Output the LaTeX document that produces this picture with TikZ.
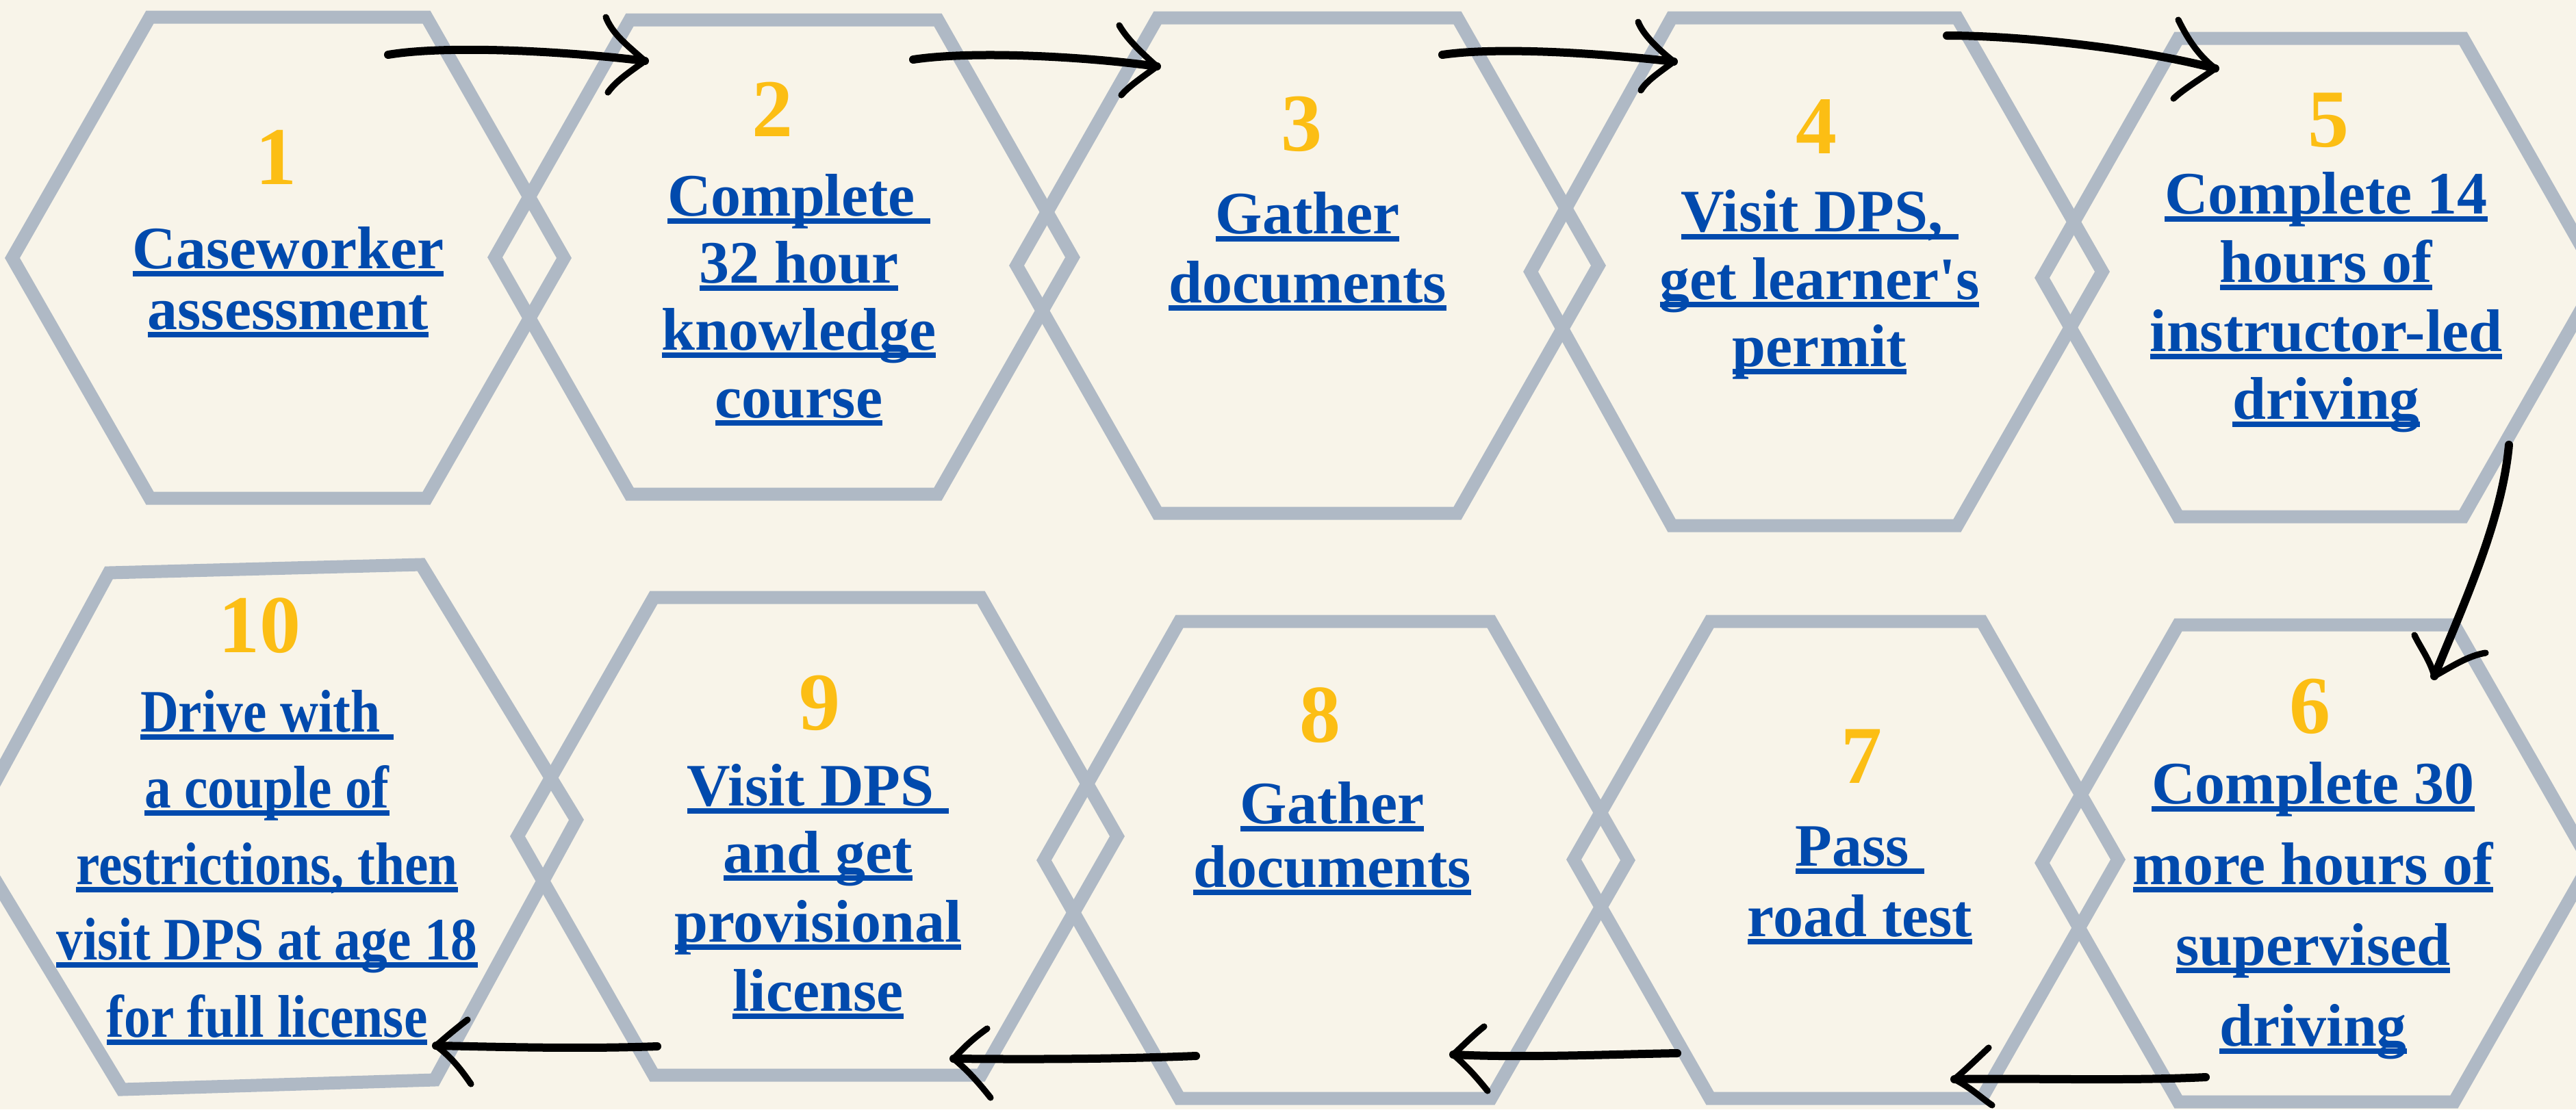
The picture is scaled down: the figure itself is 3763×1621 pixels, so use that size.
\documentclass[tikz,border=0pt]{standalone}
\usepackage{graphicx}
\usepackage{fontspec}
\setmainfont{Liberation Serif}
\definecolor{bg}{HTML}{F8F4E9}
\definecolor{hexc}{HTML}{AFB9C5}
\definecolor{txtblue}{HTML}{014AAD}
\definecolor{numyel}{HTML}{FCBE14}
\newsavebox\ulsave
\newcommand\ulx[1]{\sbox\ulsave{#1}\rlap{\rule[-3pt]{\wd\ulsave}{2pt}}\usebox\ulsave}
\newcommand\ulnarrow[1]{\ulx{\scalebox{0.88}[1]{#1}}}
\newcommand\hexa[7]{\draw[hexline] (#1,#7) -- (#2,#5) -- (#3,#5) -- (#4,#7) -- (#3,#6) -- (#2,#6) -- cycle;}
\begin{document}
\begin{tikzpicture}[x=0.25pt,y=-0.25pt,
  hexline/.style={draw=hexc,line width=4.75pt},
  tline/.style={font=\fontsize{22}{22}\selectfont\bfseries,text=txtblue,anchor=base,inner sep=0pt},
  numst/.style={font=\fontsize{30}{30}\selectfont\bfseries,text=numyel,inner sep=0pt},
  arrowline/.style={draw=black,line width=3pt,line cap=round},
  barbline/.style={draw=black,line width=2.3pt,line cap=round}]
\useasboundingbox (0,0) rectangle (3763,1621);
\clip (0,0) rectangle (3763,1621);
\fill[bg] (0,0) rectangle (3763,1621);
% hexagons: L TL TR R top bot mid
\hexa{18}{219}{623}{824}{25}{728}{377}
\hexa{723}{920}{1370}{1567}{29}{722}{376}
\hexa{1485}{1691}{2129}{2335}{26}{750}{388}
\hexa{2236}{2442}{2859}{3071}{26}{768}{397}
\hexa{2983}{3182}{3598}{3797}{56}{755}{406}
\hexa{2983}{3182}{3585}{3784}{913}{1610}{1261}
\hexa{2299}{2498}{2895}{3094}{908}{1605}{1256}
\hexa{1525}{1723}{2178}{2378}{908}{1605}{1257}
\hexa{756}{955}{1433}{1632}{873}{1571}{1222}
\draw[hexline] (-48,1218) -- (159,837) -- (615,825) -- (842,1198) -- (635,1578) -- (178,1592) -- cycle;
% arrow end points
\coordinate (a1s) at (567,80);   \coordinate (a1e) at (942,89);
\coordinate (a2s) at (1334,87);  \coordinate (a2e) at (1690,97);
\coordinate (a3s) at (2107,80);  \coordinate (a3e) at (2445,90);
\coordinate (a4s) at (2844,52);  \coordinate (a4e) at (3236,100);
\coordinate (a5s) at (3665,650); \coordinate (a5e) at (3556,988);
\coordinate (a6s) at (3222,1574);\coordinate (a6e) at (2855,1577);
\coordinate (a7s) at (2450,1539);\coordinate (a7e) at (2123,1541);
\coordinate (a8s) at (1747,1543);\coordinate (a8e) at (1393,1547);
\coordinate (a9s) at (960,1529); \coordinate (a9e) at (637,1528);
% arrows
\draw[arrowline] (a1s) .. controls (650,66) and (820,74) .. (a1e);
\draw[barbline] (a1e) .. controls (915,65) and (895,50) .. ++(-57,-64);
\draw[barbline] (a1e) .. controls (920,105) and (900,118) .. ++(-54,46);
\draw[arrowline] (a2s) .. controls (1420,74) and (1580,82) .. (a2e);
\draw[barbline] (a2e) .. controls (1665,75) and (1645,55) .. ++(-55,-60);
\draw[barbline] (a2e) .. controls (1670,112) and (1650,125) .. ++(-52,42);
\draw[arrowline] (a3s) .. controls (2190,68) and (2340,78) .. (a3e);
\draw[barbline] (a3e) .. controls (2420,70) and (2400,50) .. ++(-52,-58);
\draw[barbline] (a3e) .. controls (2425,105) and (2405,118) .. ++(-48,42);
\draw[arrowline] (a4s) .. controls (2950,52) and (3120,70) .. (a4e);
\draw[barbline] (a4e) .. controls (3210,80) and (3195,55) .. ++(-54,-71);
\draw[barbline] (a4e) .. controls (3215,115) and (3190,130) .. ++(-61,44);
\draw[arrowline] (a5s) .. controls (3655,760) and (3600,880) .. (a5e);
\draw[barbline] (a5e) .. controls (3550,965) and (3535,945) .. ++(-29,-60);
\draw[barbline] (a5e) .. controls (3580,975) and (3605,958) .. ++(75,-34);
\draw[arrowline] (a6s) .. controls (3100,1580) and (2960,1575) .. (a6e);
\draw[barbline] (a6e) .. controls (2875,1560) and (2890,1545) .. ++(50,-46);
\draw[barbline] (a6e) .. controls (2880,1590) and (2895,1605) .. ++(55,38);
\draw[arrowline] (a7s) .. controls (2340,1541) and (2220,1546) .. (a7e);
\draw[barbline] (a7e) .. controls (2140,1525) and (2155,1510) .. ++(45,-41);
\draw[barbline] (a7e) .. controls (2145,1560) and (2160,1578) .. ++(50,53);
\draw[arrowline] (a8s) .. controls (1620,1548) and (1500,1548) .. (a8e);
\draw[barbline] (a8e) .. controls (1410,1528) and (1425,1515) .. ++(49,-44);
\draw[barbline] (a8e) .. controls (1415,1565) and (1432,1585) .. ++(54,57);
\draw[arrowline] (a9s) .. controls (850,1533) and (740,1530) .. (a9e);
\draw[barbline] (a9e) .. controls (655,1512) and (670,1500) .. ++(46,-38);
\draw[barbline] (a9e) .. controls (660,1545) and (675,1565) .. ++(51,56);
% numbers
\node[numst] (n1) at (403,230) {1};
\node[numst] (n2) at (1128,160) {2};
\node[numst] (n3) at (1901,181) {3};
\node[numst] (n4) at (2653,185) {4};
\node[numst] (n5) at (3401,176) {5};
\node[numst] (n6) at (3374,1032) {6};
\node[numst] (n7) at (2719,1105) {7};
\node[numst] (n8) at (1928,1045) {8};
\node[numst] (n9) at (1197,1027) {9};
\node[numst] (n10) at (379,914) {10};
% texts
\node[tline] (t1a) at (421,392) {\ulx{Caseworker}};
\node[tline] (t1b) at (421,481) {\ulx{assessment}};
\node[tline] (t2a) at (1167,315) {\ulx{Complete\ }};
\node[tline] (t2b) at (1167,413) {\ulx{32 hour}};
\node[tline] (t2c) at (1167,511) {\ulx{knowledge}};
\node[tline] (t2d) at (1167,610) {\ulx{course}};
\node[tline] (t3a) at (1910,341) {\ulx{Gather}};
\node[tline] (t3b) at (1910,442) {\ulx{documents}};
\node[tline] (t4a) at (2658,338) {\ulx{Visit DPS,\ }};
\node[tline] (t4b) at (2658,437) {\ulx{get learner\textquotesingle s}};
\node[tline] (t4c) at (2658,535) {\ulx{permit}};
\node[tline] (t5a) at (3398,312) {\ulx{Complete 14}};
\node[tline] (t5b) at (3398,412) {\ulx{hours of}};
\node[tline] (t5c) at (3398,513) {\ulx{instructor-led}};
\node[tline] (t5d) at (3398,612) {\ulx{driving}};
\node[tline] (t6a) at (3379,1174) {\ulx{Complete 30}};
\node[tline] (t6b) at (3379,1292) {\ulx{more hours of}};
\node[tline] (t6c) at (3379,1410) {\ulx{supervised}};
\node[tline] (t6d) at (3379,1528) {\ulx{driving}};
\node[tline] (t7a) at (2717,1265) {\ulx{Pass\ }};
\node[tline] (t7b) at (2717,1368) {\ulx{road test}};
\node[tline] (t8a) at (1946,1203) {\ulx{Gather}};
\node[tline] (t8b) at (1946,1296) {\ulx{documents}};
\node[tline] (t9a) at (1195,1177) {\ulx{Visit DPS\ }};
\node[tline] (t9b) at (1195,1275) {\ulx{and get}};
\node[tline] (t9c) at (1195,1376) {\ulx{provisional}};
\node[tline] (t9d) at (1195,1477) {\ulx{license}};
\node[tline] (t10a) at (390,1069) {\ulnarrow{Drive with\ }};
\node[tline] (t10b) at (390,1180) {\ulnarrow{a couple of}};
\node[tline] (t10c) at (390,1292) {\ulnarrow{restrictions, then}};
\node[tline] (t10d) at (390,1402) {\ulnarrow{visit DPS at age 18}};
\node[tline] (t10e) at (390,1515) {\ulnarrow{for full license}};
\end{tikzpicture}
\end{document}
